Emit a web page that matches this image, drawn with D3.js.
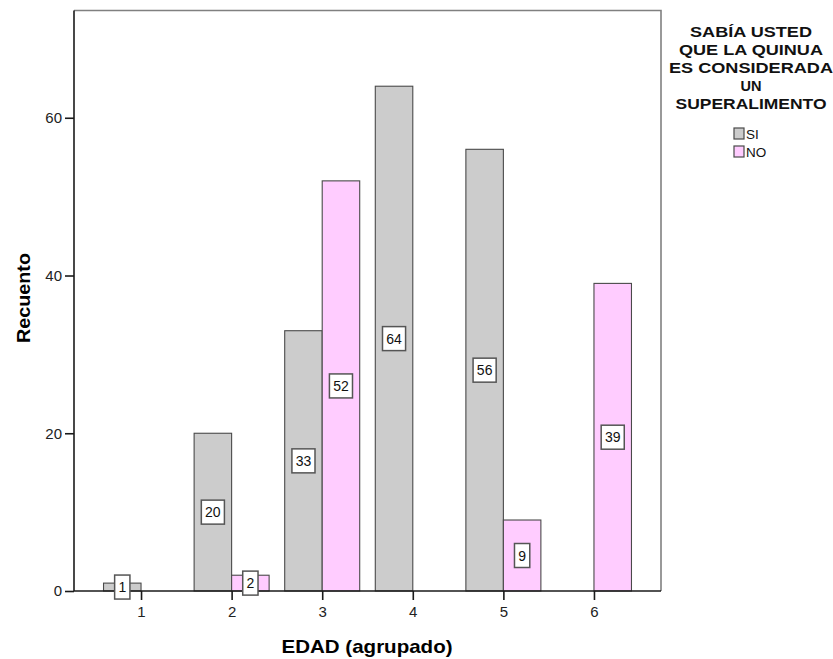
<!DOCTYPE html>
<html>
<head>
<meta charset="utf-8">
<script src="https://cdn.jsdelivr.net/npm/d3@7"></script>
<style>
  html, body { margin: 0; padding: 0; background: #fff; }
  svg { display: block; font-family: "Liberation Sans", Arial, sans-serif; }
</style>
</head>
<body>
<svg id="chart" width="833" height="659"></svg>
<script>
// Age groups on the x axis
const categories = ["1", "2", "3", "4", "5", "6"];
// Counts per answer ("SI" / "NO"); null = no bar in that group
const siValues = [1, 20, 33, 64, 56, null];
const noValues = [null, 2, 52, null, 9, 39];
const seriesNames = ["SI", "NO"];
const seriesColors = ["#cccccc", "#ffccff"];
const yTicks = [0, 20, 40, 60];
const legendTitle = ["SABÍA USTED", "QUE LA QUINUA", "ES CONSIDERADA", "UN", "SUPERALIMENTO"];
const legendTitleWidths = [122, 144, 164, 21, 151];

const svg = d3.select("#chart");

const plot = { left: 74, right: 661, top: 10.5, bottom: 591 };

const x = d3.scalePoint()
  .domain(categories)
  .range([plot.left, plot.right])
  .padding(0.74);

const y = d3.scaleLinear()
  .domain([0, 73.6])
  .range([plot.bottom, plot.top]);

const barW = x.step() * 0.414;

// Frame: top and right edges in grey
svg.append("path")
  .attr("d", `M${plot.left},${plot.top}H${plot.right}V${plot.bottom}`)
  .attr("fill", "none")
  .attr("stroke", "#808080")
  .attr("stroke-width", 1.6);

// Bars
const series = [siValues, noValues];
const barData = [];
series.forEach((vals, si) => {
  vals.forEach((v, i) => {
    if (v == null) return;
    barData.push({ cat: categories[i], value: v, s: si });
  });
});

svg.append("g").selectAll("rect")
  .data(barData)
  .join("rect")
  .attr("x", d => d.s === 0 ? x(d.cat) - barW : x(d.cat))
  .attr("y", d => y(d.value))
  .attr("width", barW)
  .attr("height", d => y(0) - y(d.value))
  .attr("fill", d => seriesColors[d.s])
  .attr("stroke", "#4a4a4a")
  .attr("stroke-width", 1.1);

// Axes
const yAxis = svg.append("g")
  .attr("transform", `translate(${plot.left},0)`)
  .call(d3.axisLeft(y).tickValues(yTicks).tickSize(9).tickSizeOuter(0).tickPadding(3));

const xAxis = svg.append("g")
  .attr("transform", `translate(0,${plot.bottom})`)
  .call(d3.axisBottom(x).tickSize(9).tickSizeOuter(0).tickPadding(6));

[yAxis, xAxis].forEach(g => {
  g.select(".domain").attr("stroke", "#1a1a1a").attr("stroke-width", 1.6);
  g.selectAll(".tick line").attr("stroke", "#1a1a1a").attr("stroke-width", 1.6);
  g.selectAll(".tick text")
    .attr("fill", "#222")
    .style("font-size", "15px")
    .style("font-family", "'Liberation Sans', Arial, sans-serif");
});
// Domain lines span the full plot extent
yAxis.select(".domain").attr("d", `M0,${plot.top}V${plot.bottom}`);
xAxis.select(".domain").attr("d", `M${plot.left},0H${plot.right}`);

// Value labels in boxes at mid-height of each bar
const labels = svg.append("g").selectAll("g")
  .data(barData)
  .join("g")
  .attr("transform", d => {
    const cx = d.s === 0 ? x(d.cat) - barW / 2 : x(d.cat) + barW / 2;
    const cy = (y(0) + y(d.value)) / 2;
    return `translate(${cx},${cy})`;
  });

labels.each(function (d) {
  const g = d3.select(this);
  const t = g.append("text")
    .attr("text-anchor", "middle")
    .attr("dy", "0.36em")
    .style("font-size", "14px")
    .attr("fill", "#111")
    .text(d.value);
  const w = t.node().getComputedTextLength() + 7.5;
  g.insert("rect", "text")
    .attr("x", -w / 2)
    .attr("y", -12)
    .attr("width", w)
    .attr("height", 24)
    .attr("fill", "#fff")
    .attr("stroke", "#555")
    .attr("stroke-width", 1.5);
});

// Axis titles
svg.append("text")
  .attr("x", 367)
  .attr("y", 653)
  .attr("text-anchor", "middle")
  .style("font-size", "19px")
  .style("font-weight", "bold")
  .attr("textLength", 171)
  .attr("lengthAdjust", "spacingAndGlyphs")
  .text("EDAD (agrupado)");

svg.append("text")
  .attr("transform", "translate(30,298) rotate(-90)")
  .attr("text-anchor", "middle")
  .style("font-size", "19px")
  .style("font-weight", "bold")
  .attr("textLength", 90)
  .attr("lengthAdjust", "spacingAndGlyphs")
  .text("Recuento");

// Legend
const legend = svg.append("g");
legend.selectAll("text.title")
  .data(legendTitle)
  .join("text")
  .attr("class", "title")
  .attr("x", 751)
  .attr("y", (d, i) => 37 + i * 18)
  .attr("text-anchor", "middle")
  .style("font-size", "15.5px")
  .style("font-weight", "bold")
  .attr("fill", "#111")
  .attr("textLength", (d, i) => legendTitleWidths[i])
  .attr("lengthAdjust", "spacingAndGlyphs")
  .text(d => d);

const items = legend.selectAll("g.item")
  .data(seriesNames)
  .join("g")
  .attr("class", "item")
  .attr("transform", (d, i) => `translate(734,${128 + i * 18})`);

items.append("rect")
  .attr("width", 10)
  .attr("height", 11)
  .attr("fill", (d, i) => seriesColors[i])
  .attr("stroke", "#4a4a4a")
  .attr("stroke-width", 1.2);

items.append("text")
  .attr("x", 12)
  .attr("y", 10.5)
  .style("font-size", "13.5px")
  .attr("fill", "#111")
  .text(d => d);
</script>
</body>
</html>
